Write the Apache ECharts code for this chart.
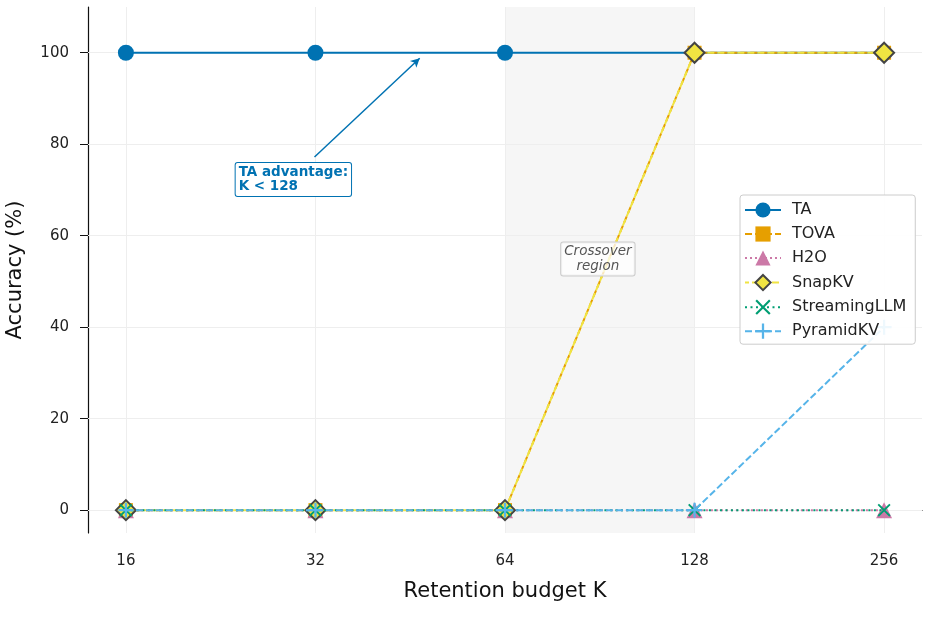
<!DOCTYPE html>
<html>
<head>
<meta charset="utf-8">
<script src="https://cdn.jsdelivr.net/npm/echarts@6/dist/echarts.min.js"></script>
<style>
  html, body { margin: 0; padding: 0; background: #fff; }
  #chart { width: 930px; height: 634px; }
</style>
</head>
<body>
<div id="chart"></div>
<script>
// retention budgets and accuracy per method
var budgets = [16, 32, 64, 128, 256];
var taAcc = [100, 100, 100, 100, 100];
var tovaAcc = [0, 0, 0, 100, 100];
var h2oAcc = [0, 0, 0, 0, 0];
var snapAcc = [0, 0, 0, 100, 100];
var streamAcc = [0, 0, 0, 0, 0];
var pyramidAcc = [0, 0, 0, 0, 40];
var yTicks = [0, 20, 40, 60, 80, 100];

var FONT = 'DejaVu Sans';
var X_MARK = 'path://M0,2 L2,0 L10,8 L18,0 L20,2 L12,10 L20,18 L18,20 L10,12 L2,20 L0,18 L8,10 Z';
var PLUS_MARK = 'path://M8.5,0 H11.5 V8.5 H20 V11.5 H11.5 V20 H8.5 V11.5 H0 V8.5 H8.5 Z';
var xTicks = budgets.map(function (k) { return Math.log2(k); });

function pts(vals) {
  return budgets.map(function (k, i) { return [Math.log2(k), vals[i]]; });
}

function line(name, vals, color, type, symbol, size, z, itemStyle, dashOffset) {
  return {
    name: name,
    type: 'line',
    z: z,
    data: pts(vals),
    symbol: symbol,
    symbolSize: size,
    lineStyle: { color: color, width: 2, type: type, dashOffset: dashOffset || 0 },
    itemStyle: itemStyle || { color: color },
    emphasis: { disabled: true }
  };
}

var chart = echarts.init(document.getElementById('chart'));

var option = {
  animation: false,
  textStyle: { fontFamily: FONT },
  grid: { left: 88, right: 8, top: 7, bottom: 101, containLabel: false, outerBoundsMode: 'none' },
  legend: {
    z: 50,
    orient: 'vertical',
    left: 740, top: 195,
    itemWidth: 36, itemHeight: 19, itemGap: 8,
    padding: [7, 9, 5, 4],
    backgroundColor: 'rgba(255,255,255,0.9)',
    borderColor: '#cccccc', borderWidth: 1, borderRadius: 3,
    textStyle: { fontFamily: FONT, fontSize: 16, color: '#222', padding: [0, 0, 0, 6] },
    data: ['TA', 'TOVA', 'H2O', 'SnapKV', 'StreamingLLM', 'PyramidKV']
  },
  xAxis: {
    type: 'value',
    min: 3.8, max: 8.2,
    name: 'Retention budget K',
    nameLocation: 'middle', nameGap: 48,
    nameTextStyle: { fontFamily: FONT, fontSize: 21, color: '#111' },
    axisLine: { show: true, lineStyle: { color: '#111', width: 1.2 } },
    axisTick: { show: true, length: 8, customValues: xTicks, lineStyle: { color: '#111' } },
    axisLabel: {
      customValues: xTicks,
      fontFamily: FONT, fontSize: 15, color: '#222', margin: 21,
      formatter: function (v) { return String(Math.round(Math.pow(2, v))); }
    },
    splitLine: { show: false }
  },
  yAxis: {
    type: 'value',
    min: -5, max: 110,
    name: 'Accuracy (%)',
    nameLocation: 'middle', nameGap: 62,
    nameTextStyle: { fontFamily: FONT, fontSize: 21, color: '#111' },
    axisLine: { show: true, lineStyle: { color: '#111', width: 1.2 } },
    axisTick: { show: true, length: 8, customValues: yTicks, lineStyle: { color: '#111' } },
    axisLabel: { customValues: yTicks, fontFamily: FONT, fontSize: 15, color: '#222', margin: 19 },
    splitLine: { show: false }
  },
  series: [
    // background: shading and faint grid lines, kept under the data
    {
      type: 'line', data: [], silent: true, z: 1,
      markArea: {
        silent: true, z: 0,
        itemStyle: { color: 'rgba(128,128,128,0.07)' },
        data: [[{ xAxis: 6 }, { xAxis: 7 }]]
      },
      markLine: {
        silent: true, z: 1, symbol: 'none', label: { show: false },
        lineStyle: { color: '#eeeeee', width: 1, type: 'solid' },
        data: yTicks.map(function (v) { return { yAxis: v }; })
          .concat(xTicks.map(function (v) { return { xAxis: v }; }))
      }
    },
    line('TA', taAcc, '#0072B2', 'solid', 'circle', 16, 3),
    line('TOVA', tovaAcc, '#E69F00', [7, 3], 'rect', 14, 4),
    line('H2O', h2oAcc, '#CC79A7', [2, 3], 'triangle', 16, 5),
    line('SnapKV', snapAcc, '#F0E442', [7, 3], 'diamond', 20, 6,
      { color: '#F0E442', borderColor: '#444444', borderWidth: 2 }, 3),
    line('StreamingLLM', streamAcc, '#009E73', [2, 3.5], X_MARK, 13, 7),
    line('PyramidKV', pyramidAcc, '#56B4E9', [7, 3], PLUS_MARK, 15, 8),
    // annotations
    {
      type: 'line', data: [], silent: true, z: 9,
      markLine: {
        silent: true, z: 9,
        symbol: ['none', 'arrow'],
        symbolSize: [7, 9],
        label: { show: false },
        lineStyle: { color: '#0072B2', width: 1.5, type: 'solid' },
        data: [[{ coord: [4.995, 77.2] }, { coord: [5.55, 98.8] }]]
      },
      markPoint: {
        silent: true, z: 10,
        symbol: 'rect', symbolSize: 1,
        itemStyle: { color: 'rgba(0,0,0,0)' },
        data: [
          {
            coord: [4.579, 72.3],
            label: {
              show: true, position: 'inside',
              formatter: 'TA advantage:\nK < 128',
              fontFamily: FONT, fontSize: 13.5, fontWeight: 'bold', color: '#0072B2',
              align: 'left', verticalAlign: 'middle', lineHeight: 14,
              backgroundColor: '#ffffff', borderColor: '#0072B2', borderWidth: 1,
              borderRadius: 2, padding: [3, 3, 2, 3]
            }
          },
          {
            coord: [6.49, 54.9],
            label: {
              show: true, position: 'inside',
              formatter: 'Crossover\nregion',
              fontFamily: FONT, fontSize: 13.5, fontStyle: 'italic', color: '#555',
              align: 'center', verticalAlign: 'middle', lineHeight: 15,
              backgroundColor: 'rgba(255,255,255,0.75)', borderColor: '#cccccc', borderWidth: 1,
              borderRadius: 2, padding: [2, 3, 1, 3]
            }
          }
        ]
      }
    }
  ]
};

chart.setOption(option);
</script>
</body>
</html>
